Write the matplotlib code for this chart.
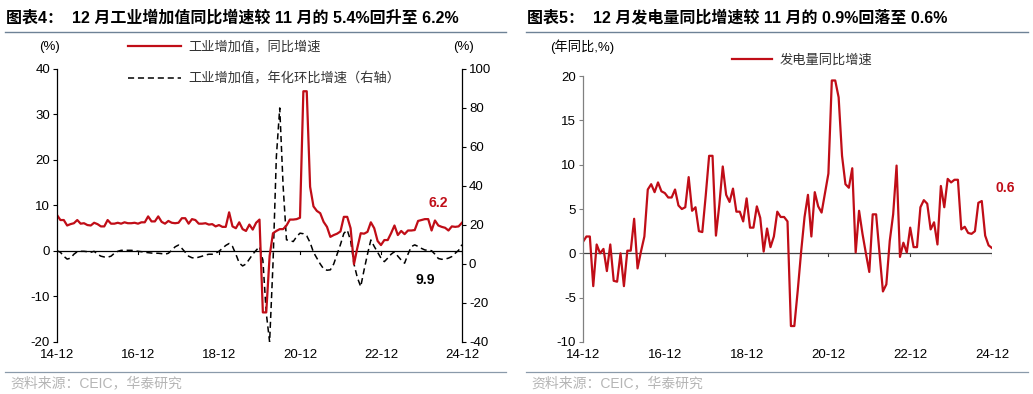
import matplotlib.pyplot as plt
from matplotlib.lines import Line2D

plt.rcParams['font.family'] = ['Liberation Sans', 'Noto Sans CJK SC', 'DejaVu Sans']
plt.rcParams['axes.unicode_minus'] = False

# months from 2014-12 to 2024-12
months = list(range(121))
tick_pos = [0, 24, 48, 72, 96, 120]
tick_labels = ["14-12", "16-12", "18-12", "20-12", "22-12", "24-12"]

# 工业增加值 同比 (%)
ip_yoy = [7.9,
          6.8, 6.8, 5.6, 5.9, 6.1, 6.8, 6.0, 6.1, 5.7, 5.6, 6.2, 5.9,
          5.4, 5.4, 6.8, 6.0, 6.0, 6.2, 6.0, 6.3, 6.1, 6.1, 6.2, 6.0,
          6.3, 6.3, 7.6, 6.5, 6.5, 7.6, 6.4, 6.0, 6.6, 6.2, 6.1, 6.2,
          7.2, 7.2, 6.0, 7.0, 6.8, 6.0, 6.0, 6.1, 5.8, 5.9, 5.4, 5.7,
          5.3, 5.3, 8.5, 5.4, 5.0, 6.3, 4.8, 4.4, 5.8, 4.7, 6.2, 6.9,
          -13.5, -13.5, -1.1, 3.9, 4.4, 4.8, 4.8, 5.6, 6.9, 6.9, 7.0, 7.3,
          35.1, 35.1, 14.1, 9.8, 8.8, 8.3, 6.4, 5.3, 3.1, 3.5, 3.8, 4.3,
          7.5, 7.5, 5.0, -2.9, 0.7, 3.9, 3.8, 4.2, 6.3, 5.0, 2.2, 1.3,
          2.4, 2.4, 3.9, 5.6, 3.5, 4.4, 3.7, 4.5, 4.5, 4.6, 6.6, 6.8,
          7.0, 7.0, 4.5, 6.7, 5.6, 5.3, 5.1, 4.5, 5.4, 5.3, 5.4, 6.2]

# 工业增加值 年化环比 (%, 右轴)
ip_mom_ann = [6.8,
              6.0, 4.0, 2.5, 3.0, 5.0, 6.3, 6.5, 6.5, 6.3, 6.0, 6.5, 5.0,
              4.0, 3.6, 3.5, 4.0, 5.5, 6.5, 7.0, 7.0, 7.0, 7.0, 6.8, 6.5,
              6.3, 6.0, 5.8, 5.6, 5.5, 5.5, 5.3, 5.0, 5.5, 7.0, 8.8, 9.7,
              8.0, 6.0, 4.0, 3.2, 3.0, 3.5, 4.0, 4.6, 5.0, 5.0, 5.5, 6.5,
              8.0, 9.5, 10.5, 9.0, 5.0, 0.5, -1.0, 0.0, 2.5, 5.0, 7.0, 8.9,
              2.0, -25.0, -40.0, 0.0, 55.0, 80.0, 40.0, 12.4, 12.0, 11.5, 14.0, 15.8,
              15.5, 14.4, 11.0, 6.0, 3.0, 0.0, -2.5, -3.2, -3.0, 0.0, 5.0, 10.0,
              15.7, 17.4, 12.0, 0.0, -7.0, -11.6, -3.0, 5.0, 12.3, 9.0, 6.0, 3.0,
              1.2, 3.0, 5.0, 6.3, 4.0, 2.0, 0.4, 5.0, 8.9, 9.8, 9.0, 8.0,
              7.2, 7.0, 6.8, 5.0, 2.8, 2.4, 2.5, 3.0, 3.8, 5.5, 7.0, 9.9]

# 发电量 同比 (%)
power_yoy = [1.3,
             1.9, 1.9, -3.7, 1.0, 0.0, 0.5, -2.0, 1.0, -3.1, -3.2, 0.0, -3.7,
             0.3, 0.3, 3.9, -1.7, 0.2, 1.9, 7.2, 7.8, 6.9, 8.0, 7.0, 6.8,
             6.3, 6.3, 7.2, 5.4, 5.0, 5.2, 8.6, 4.8, 5.2, 2.5, 2.4, 6.5,
             11.0, 11.0, 2.0, 5.5, 9.8, 6.6, 5.8, 7.3, 4.7, 4.7, 3.6, 6.2,
             2.9, 2.9, 5.3, 4.0, 0.2, 2.8, 0.7, 1.9, 4.7, 4.1, 4.1, 3.6,
             -8.2, -8.2, -4.2, 0.2, 4.1, 6.6, 1.9, 6.9, 5.3, 4.6, 6.8, 9.0,
             19.5, 19.5, 17.6, 11.0, 7.8, 7.4, 9.6, 0.1, 4.8, 2.2, 0.0, -2.1,
             4.4, 4.4, 0.0, -4.3, -3.5, 1.4, 4.4, 9.9, -0.4, 1.2, 0.1, 2.9,
             0.7, 0.7, 5.2, 6.0, 5.6, 2.7, 3.5, 1.0, 7.6, 5.2, 8.4, 8.0,
             8.3, 8.3, 2.7, 3.0, 2.3, 2.2, 2.5, 5.7, 5.9, 2.0, 0.9, 0.6]

red = "#c00d17"
rule_color = "#6e8296"
src_color = "#b5b5b5"
tick_fs = 9.5
legend_fs = 9.5

fig = plt.figure(figsize=(10.33, 3.94), dpi=100)

# ---------- 图表4 ----------
ax1 = fig.add_axes([0.0552, 0.132, 0.392, 0.693])
ax2 = ax1.twinx()
ax1.set_zorder(ax2.get_zorder() + 1)
ax1.patch.set_visible(False)

ax2.plot(months, ip_mom_ann, color="black", lw=1.1, ls=(0, (4, 2.5)))
ax1.plot(months, ip_yoy, color=red, lw=1.6)

ax1.set_xlim(0, 120)
ax1.set_ylim(-20, 40)
ax2.set_ylim(-40, 100)
ax1.set_yticks(range(-20, 41, 10))
ax2.set_yticks(range(-40, 101, 20))

for a in (ax1, ax2):
    a.spines["top"].set_visible(False)
    a.spines["bottom"].set_visible(False)
    a.tick_params(axis="y", labelsize=tick_fs, length=3, width=0.8, pad=2)
ax1.spines["right"].set_visible(False)
ax2.spines["left"].set_visible(False)
ax1.spines["left"].set_linewidth(0.9)
ax2.spines["right"].set_linewidth(0.9)

ax1.axhline(0, color="black", lw=0.9, zorder=1)
ax1.set_xticks(tick_pos)
ax1.tick_params(axis="x", length=0, labelbottom=False)
for p in tick_pos[1:]:
    ax1.plot([p, p], [0, -0.7], color="black", lw=0.8)
sx1 = ax1.secondary_xaxis("bottom")
sx1.set_xticks(tick_pos)
sx1.set_xticklabels(tick_labels)
sx1.tick_params(length=0, labelsize=tick_fs, pad=5)
sx1.spines["bottom"].set_visible(False)

ax1.text(113, 10.5, "6.2", color=red, fontsize=10, fontweight="bold",
         ha="center", va="center")
ax2.text(109, -8.3, "9.9", color="black", fontsize=10, fontweight="bold",
         ha="center", va="center")

h = [Line2D([], [], color=red, lw=1.6),
     Line2D([], [], color="black", lw=1.1, ls=(0, (4, 2.5)))]
fig.legend(h, ["工业增加值，同比增速", "工业增加值，年化环比增速（右轴）"],
           loc="upper left", bbox_to_anchor=(0.124, 0.897), frameon=False,
           fontsize=legend_fs, handlelength=4.0, handletextpad=0.6,
           labelspacing=1.45, borderpad=0, borderaxespad=0,
           labelcolor="#333333")

fig.text(50 / 1033, 1 - 47 / 394, "(%)", fontsize=tick_fs, ha="center", va="center")
fig.text(463 / 1033, 1 - 47 / 394, "(%)", fontsize=tick_fs, ha="center", va="center")

fig.text(6 / 1033, 1 - 18 / 394,
         "图表4：  12 月工业增加值同比增速较 11 月的 5.4%回升至 6.2%",
         fontsize=11.5, fontweight="bold", ha="left", va="center")
fig.add_artist(Line2D([5 / 1033, 506 / 1033], [1 - 32 / 394, 1 - 32 / 394],
                      color=rule_color, lw=1.0))
fig.add_artist(Line2D([5 / 1033, 506 / 1033], [1 - 372 / 394, 1 - 372 / 394],
                      color="#8a9aaa", lw=0.9))
fig.text(10 / 1033, 1 - 383 / 394, "资料来源：CEIC，华泰研究",
         fontsize=10, color=src_color, ha="left", va="center")

# ---------- 图表5 ----------
ax3 = fig.add_axes([0.5644, 0.132, 0.3959, 0.675])
ax3.plot(months, power_yoy, color=red, lw=1.6)
ax3.set_xlim(0, 120)
ax3.set_ylim(-10, 20)
ax3.set_yticks(range(-10, 21, 5))
ax3.spines["top"].set_visible(False)
ax3.spines["right"].set_visible(False)
ax3.spines["bottom"].set_visible(False)
ax3.spines["left"].set_color("#808080")
ax3.spines["left"].set_linewidth(0.9)
ax3.tick_params(axis="y", labelsize=tick_fs, length=3, width=0.8, pad=2,
                color="#808080")
ax3.axhline(0, color="#404040", lw=0.9, zorder=1)
ax3.set_xticks(tick_pos)
ax3.tick_params(axis="x", length=0, labelbottom=False)
for p in tick_pos[1:]:
    ax3.plot([p, p], [0, -0.35], color="#404040", lw=0.8)
sx3 = ax3.secondary_xaxis("bottom")
sx3.set_xticks(tick_pos)
sx3.set_xticklabels(tick_labels)
sx3.tick_params(length=0, labelsize=tick_fs, pad=5)
sx3.spines["bottom"].set_visible(False)

ax3.text(124, 7.4, "0.6", color=red, fontsize=10, fontweight="bold",
         ha="center", va="center", clip_on=False)

fig.legend([Line2D([], [], color=red, lw=1.6)], ["发电量同比增速"],
           loc="upper left", bbox_to_anchor=(0.709, 0.862), frameon=False,
           fontsize=legend_fs, handlelength=3.0, handletextpad=0.6,
           borderpad=0, borderaxespad=0, labelcolor="#333333")

fig.text(550 / 1033, 1 - 47 / 394, "(年同比,%)", fontsize=tick_fs,
         ha="left", va="center")

fig.text(527 / 1033, 1 - 18 / 394,
         "图表5：  12 月发电量同比增速较 11 月的 0.9%回落至 0.6%",
         fontsize=11.5, fontweight="bold", ha="left", va="center")
fig.add_artist(Line2D([526 / 1033, 1028 / 1033], [1 - 32 / 394, 1 - 32 / 394],
                      color=rule_color, lw=1.0))
fig.add_artist(Line2D([526 / 1033, 1028 / 1033], [1 - 372 / 394, 1 - 372 / 394],
                      color="#8a9aaa", lw=0.9))
fig.text(531 / 1033, 1 - 383 / 394, "资料来源：CEIC，华泰研究",
         fontsize=10, color=src_color, ha="left", va="center")

fig.savefig("out.png", dpi=100)
